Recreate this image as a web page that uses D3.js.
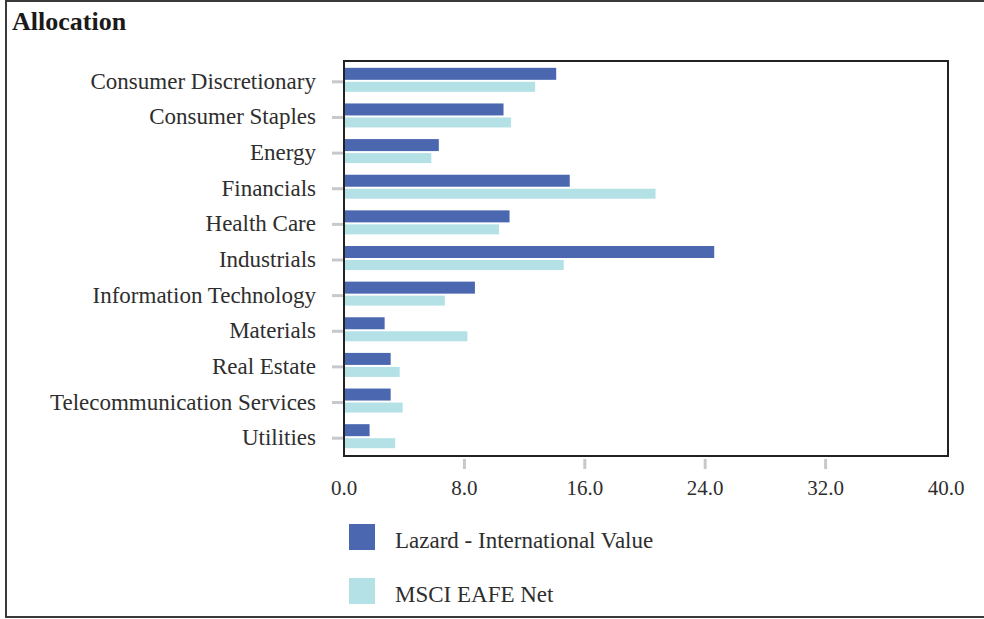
<!DOCTYPE html>
<html>
<head>
<meta charset="utf-8">
<script src="https://cdn.jsdelivr.net/npm/d3@7/dist/d3.min.js"></script>
<style>
  html, body { margin: 0; padding: 0; background: #fff; }
  svg { display: block; }
  text { font-family: "Liberation Serif", "Times New Roman", serif; fill: #2e2e2e; }
</style>
</head>
<body>
<svg id="chart" width="984" height="619"></svg>
<script>
const categories = ["Consumer Discretionary", "Consumer Staples", "Energy", "Financials", "Health Care", "Industrials", "Information Technology", "Materials", "Real Estate", "Telecommunication Services", "Utilities"];
const seriesNames = ["Lazard - International Value", "MSCI EAFE Net"];
const lazardValues = [14.1, 10.6, 6.3, 15.0, 11.0, 24.6, 8.7, 2.7, 3.1, 3.1, 1.7];
const msciValues = [12.7, 11.1, 5.8, 20.7, 10.3, 14.6, 6.7, 8.2, 3.7, 3.9, 3.4];
const xTicks = [0, 8, 16, 24, 32, 40];
const colors = ["#4a67b0", "#b4e1e6"];

const svg = d3.select("#chart");

// outer border
svg.append("rect").attr("x", 6).attr("y", 1).attr("width", 1000).attr("height", 616)
  .attr("fill", "none").attr("stroke", "#3a3a3a").attr("stroke-width", 2);

// title
svg.append("text").attr("x", 12).attr("y", 30).text("Allocation")
  .style("font-size", "26px").style("font-weight", "bold").style("fill", "#1a1a1a");

const plot = { left: 344, right: 948, top: 61, bottom: 456 };
const x = d3.scaleLinear().domain([0, 40]).range([plot.left, 946]);
const y = d3.scaleBand().domain(categories).range([64, 456]).padding(0);

// y ticks (gray stubs)
svg.append("g").selectAll("line").data(categories).join("line")
  .attr("x1", plot.left - 12).attr("x2", plot.left)
  .attr("y1", d => y(d) + y.bandwidth() / 2).attr("y2", d => y(d) + y.bandwidth() / 2)
  .attr("stroke", "#c6c8cb").attr("stroke-width", 3);

// y labels
svg.append("g").selectAll("text").data(categories).join("text")
  .attr("x", 316).attr("y", d => y(d) + y.bandwidth() / 2 + 7)
  .attr("text-anchor", "end").style("font-size", "23px").text(d => d);

// bars
const rows = categories.map((c, i) => ({ c, a: lazardValues[i], b: msciValues[i] }));
const g = svg.append("g");
g.selectAll("rect.a").data(rows).join("rect").attr("class", "a")
  .attr("x", x(0)).attr("y", d => y(d.c) + y.bandwidth() / 2 - 14)
  .attr("width", d => x(d.a) - x(0)).attr("height", 12).attr("fill", colors[0]);
g.selectAll("rect.b").data(rows).join("rect").attr("class", "b")
  .attr("x", x(0)).attr("y", d => y(d.c) + y.bandwidth() / 2)
  .attr("width", d => x(d.b) - x(0)).attr("height", 10).attr("fill", colors[1]);

// frame
svg.append("rect").attr("x", plot.left).attr("y", plot.top)
  .attr("width", plot.right - plot.left).attr("height", plot.bottom - plot.top)
  .attr("fill", "none").attr("stroke", "#222").attr("stroke-width", 2);

// x ticks
svg.append("g").selectAll("line").data(xTicks.filter(t => t > 0 && t < 40)).join("line")
  .attr("x1", d => x(d)).attr("x2", d => x(d))
  .attr("y1", plot.bottom + 3).attr("y2", plot.bottom + 13)
  .attr("stroke", "#c6c8cb").attr("stroke-width", 3);

svg.append("g").selectAll("text").data(xTicks).join("text")
  .attr("x", d => x(d)).attr("y", 495).attr("text-anchor", "middle")
  .style("font-size", "21px").text(d => d3.format(".1f")(d));

// legend
const leg = svg.append("g");
seriesNames.forEach((s, i) => {
  const ly = 524 + i * 54;
  leg.append("rect").attr("x", 349).attr("y", ly).attr("width", 26).attr("height", 26).attr("fill", colors[i]);
  leg.append("text").attr("x", 395).attr("y", ly + 24).style("font-size", "23px").text(s);
});
</script>
</body>
</html>
